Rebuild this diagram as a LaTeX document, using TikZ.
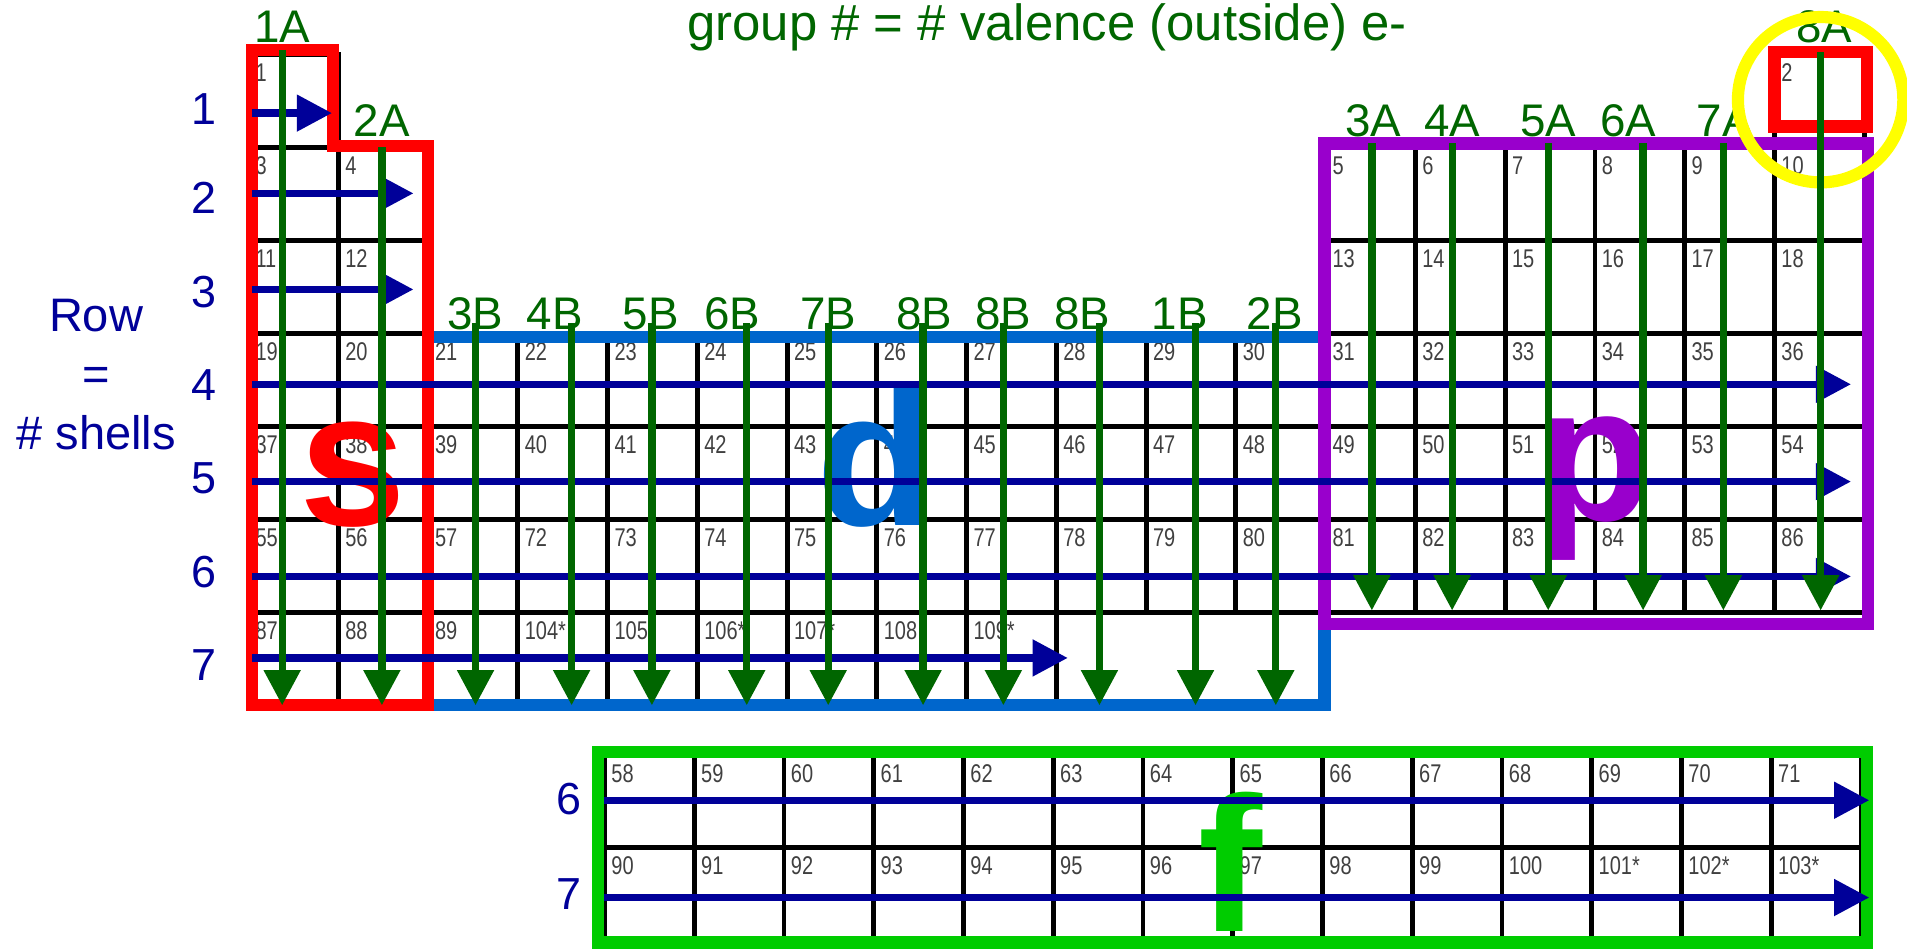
\documentclass[tikz,border=0pt]{standalone}
\usepackage{fontspec}
\setmainfont{Liberation Sans}
\newfontfamily\numfont[FakeStretch=0.78]{Liberation Sans}
\usetikzlibrary{arrows.meta}

\definecolor{verdescuro}{RGB}{0,102,0}
\definecolor{blunotte}{RGB}{0,0,153}
\definecolor{rosso}{RGB}{255,0,0}
\definecolor{azzurro}{RGB}{0,102,204}
\definecolor{viola}{RGB}{153,0,204}
\definecolor{verdef}{RGB}{0,204,0}
\definecolor{giallo}{RGB}{255,255,0}

\tikzset{
  griglia/.style={draw=black, line width=0.4mm},
  numero/.style={anchor=north west, inner sep=0pt, text=black!75,
    font=\numfont\fontsize{6}{6}\selectfont},
  bordo/.style={line width=1mm},
  gruppo/.style={anchor=base, inner sep=0pt, text=verdescuro,
    font=\fontsize{10.7}{11}\selectfont},
  riga/.style={inner sep=0pt, text=blunotte, font=\fontsize{10.5}{11}\selectfont},
  blocco/.style={anchor=base, inner sep=0pt, font=\bfseries\fontsize{45}{45}\selectfont},
  punta/.style={-{Triangle[length=2.9mm,width=2.9mm]}, line width=0.6mm},
  frecciagruppo/.style={punta, draw=verdescuro},
  frecciariga/.style={punta, draw=blunotte},
}

% cella della tavola: colonna, riga, numero atomico
\newcommand{\cella}[3]{%
  \draw[griglia] ({204.4+73.8*(#1-1)},{45+76.43*(#2-1)}) rectangle +(73.8,76.43);
  \node[numero] (c#1-#2) at ({209.4+73.8*(#1-1)},{52+76.43*(#2-1)}) {#3};
}
% cella del blocco f
\newcommand{\cellaf}[3]{%
  \draw[griglia] ({497+73.8*(#1-1)},{621+76*(#2-1)}) rectangle +(73.8,76);
  \node[numero] (f#1-#2) at ({502+73.8*(#1-1)},{628+76*(#2-1)}) {#3};
}

\begin{document}
\begin{tikzpicture}[x=0.1mm, y=-0.1mm]
  \useasboundingbox (0,0) rectangle (1568,780);

  % Periodo 1
  \cella{1}{1}{1}
  \cella{18}{1}{2}

  % Periodi 2 e 3
  \foreach \c/\n in {1/3,2/4,13/5,14/6,15/7,16/8,17/9,18/10} {\cella{\c}{2}{\n}}
  \foreach \c/\n in {1/11,2/12,13/13,14/14,15/15,16/16,17/17,18/18} {\cella{\c}{3}{\n}}

  % Periodi 4, 5 e 6
  \foreach \c in {1,...,18} {
    \pgfmathtruncatemacro\numa{18+\c}
    \pgfmathtruncatemacro\numb{36+\c}
    \pgfmathtruncatemacro\numc{\c<4 ? 54+\c : 68+\c}
    \cella{\c}{4}{\numa}
    \cella{\c}{5}{\numb}
    \cella{\c}{6}{\numc}
  }

  % Periodo 7
  \foreach \c/\n in {1/87,2/88,3/89,4/104*,5/105*,6/106*,7/107*,8/108,9/109*} {\cella{\c}{7}{\n}}

  % Blocco f
  \foreach \k in {1,...,14} {
    \pgfmathtruncatemacro\numa{57+\k}
    \pgfmathtruncatemacro\numb{89+\k}
    \cellaf{\k}{1}{\numa}
    \ifnum\k>11 \cellaf{\k}{2}{\numb*}\else\cellaf{\k}{2}{\numb}\fi
  }

  % Contorni dei blocchi
  \draw[bordo, azzurro] (352,277) rectangle (1089,580);
  \draw[bordo, viola] (1089,118) rectangle (1536,513);
  \draw[bordo, rosso] (207,41) -- (274,41) -- (274,120) -- (352,120)
    -- (352,580) -- (207,580) -- cycle;
  \draw[bordo, rosso] (1459,43) rectangle (1535,104);
  \draw[bordo, verdef] (492,618) rectangle (1535,775);

  % Lettere dei blocchi
  \node[blocco, text=rosso] (ls) at (290,432) {s};
  \node[blocco, text=azzurro] (ld) at (720,432) {d};
  \node[blocco, text=viola] (lp) at (1311,428) {p};
  \node[blocco, text=verdef] (lf) at (1012,766) {f};

  % Titolo e scritta laterale
  \node[anchor=base, inner sep=0pt, text=verdescuro, font=\fontsize{11.9}{12}\selectfont]
    (titolo) at (861,33) {group \# = \# valence (outside) e-};
  \node[align=center, text=blunotte, font=\fontsize{11}{13.7}\selectfont]
    (lato) at (79,308) {Row\\=\\\# shells};

  % Gruppi
  \foreach \g/\lx/\ly/\ax/\ya/\yb [count=\i] in {
      1A/232/35/232/41/580, 2A/314/112/314/121/580,
      3B/391/271/391/266/580, 4B/456/271/470/266/580, 5B/535/271/536/266/580,
      6B/602/271/614/266/580, 7B/681/271/681/266/580, 8B/760/271/759/266/580,
      8B/825/271/825/266/580, 8B/890/271/904/266/580, 1B/970/271/983/266/580,
      2B/1048/271/1049/266/580,
      3A/1129/112/1128/118/502, 4A/1194/112/1194/118/502, 5A/1273/112/1273/118/502,
      6A/1339/112/1351/118/502, 7A/1418/112/1417/118/502, 8A/1500/35/1497/43/502} {
    \node[gruppo] (g\i) at (\lx,\ly) {\g};
    \coordinate (ga\i) at (\ax,\ya);
    \coordinate (gb\i) at (\ax,\yb);
  }

  % Periodi
  \foreach \r/\ly/\ay/\xb in {1/90/93/273, 2/163/159/340, 3/240/238/340,
      4/317/316/1522, 5/393/396/1522, 6/470/474/1522, 7/547/541/878} {
    \node[riga] (r\r) at (168,\ly) {\r};
    \coordinate (ra\r) at (207,\ay);
    \coordinate (rb\r) at (\xb,\ay);
  }
  \foreach \r/\ly/\ay in {6/657/658, 7/735/738} {
    \node[riga] (rf\r) at (468,\ly) {\r};
    \coordinate (raf\r) at (497,\ay);
    \coordinate (rbf\r) at (1537,\ay);
  }

  % Cerchio dell'elio
  \draw[giallo, line width=1mm] (1497,82) circle (6.8mm);

  % Frecce dei periodi
  \foreach \r in {1,...,7} {\draw[frecciariga] (ra\r) -- (rb\r);}
  \foreach \r in {6,7} {\draw[frecciariga] (raf\r) -- (rbf\r);}

  % Frecce dei gruppi
  \foreach \i in {1,...,18} {\draw[frecciagruppo] (ga\i) -- (gb\i);}
\end{tikzpicture}
\end{document}
